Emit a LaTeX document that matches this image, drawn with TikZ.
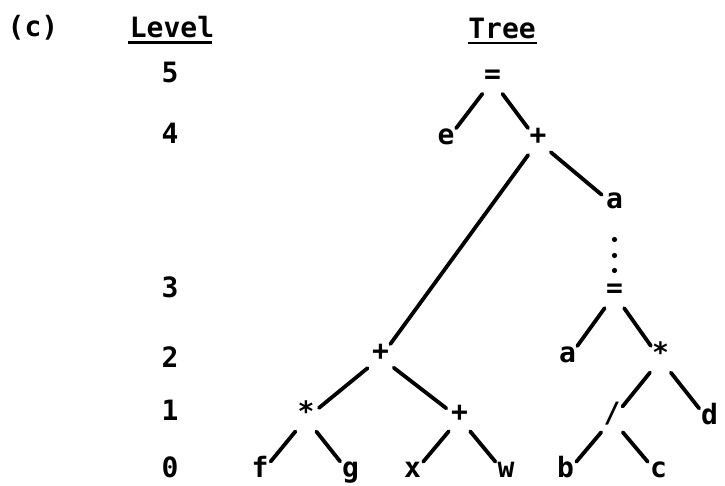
\documentclass[tikz,border=0pt]{standalone}
\usepackage{fontspec}
\setmainfont{DejaVu Sans Mono}
\usetikzlibrary{calc}
\begin{document}
\begin{tikzpicture}[x=1pt,y=-1pt,
  txt/.style={font=\fontsize{28}{32}\selectfont\bfseries, inner sep=0pt, text height=0.7em, text depth=0.2em, anchor=base},
  tn/.style={txt, circle, minimum size=28pt},
  edge/.style={line width=3.8pt, line cap=round, shorten <=2.5pt, shorten >=2.5pt},
  uline/.style={line width=2.2pt},
  dotmark/.style={fill=black}]
\useasboundingbox (0,0) rectangle (725,485);
% headers
\node[txt] (lab) at (33,36) {(c)};
\node[txt] (level) at (172,37) {Level};
\node[txt] (tree) at (502,38) {Tree};
\draw[uline] (128,42.5) -- (212,42.5);
\draw[uline] (468,43) -- (537,43);
% level numbers
\node[txt] (l5) at (170,82) {5};
\node[txt] (l4) at (170,143) {4};
\node[txt] (l3) at (170,297) {3};
\node[txt] (l2) at (170,367) {2};
\node[txt] (l1) at (170,420) {1};
\node[txt] (l0) at (170,477) {0};
% tree nodes
\node[tn] (root) at (492.5,83) {=};
\node[tn] (e) at (446,144) {e};
\node[tn] (p1) at (538,144) {+};
\node[tn] (a1) at (614.5,208) {a};
\node[tn] (eq3) at (614.5,297) {=};
\node[tn] (a2) at (567.5,362) {a};
\node[tn] (m2) at (660.5,362) {*};
\node[tn] (p2) at (380.5,360) {+};
\node[tn] (m1) at (306,421) {*};
\node[tn] (p3) at (459.5,421) {+};
\node[tn] (sl) at (612,422) {/};
\node[tn] (d) at (709.5,424) {d};
\node[tn] (f) at (260,477) {f};
\node[tn] (g) at (350.5,477) {g};
\node[tn] (x) at (412.5,477) {x};
\node[tn] (w) at (506,477) {w};
\node[tn] (b) at (565.5,477) {b};
\node[tn] (c) at (658.5,477) {c};
% edges
\draw[edge] (root) -- (e);
\draw[edge] (root) -- (p1);
\draw[edge] (p1) -- (p2);
\draw[edge] (p1) -- (a1);
\foreach \t in {0.382,0.562,0.730}
  \fill[dotmark] ($(a1.center)!\t!(eq3.center)$) circle (2.6pt);
\draw[edge] (eq3) -- (a2);
\draw[edge] (eq3) -- (m2);
\draw[edge] (m2) -- (sl);
\draw[edge] (m2) -- (d);
\draw[edge] (sl) -- (b);
\draw[edge] (sl) -- (c);
\draw[edge] (p2) -- (m1);
\draw[edge] (p2) -- (p3);
\draw[edge] (m1) -- (f);
\draw[edge] (m1) -- (g);
\draw[edge] (p3) -- (x);
\draw[edge] (p3) -- (w);
\end{tikzpicture}
\end{document}
